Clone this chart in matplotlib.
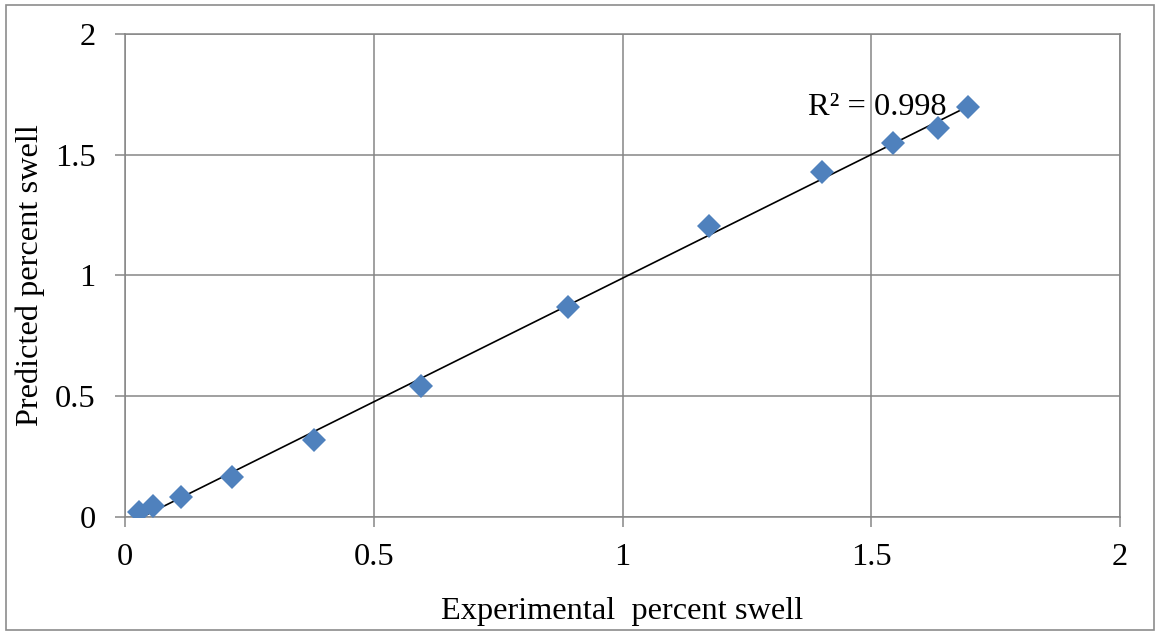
import numpy as np
import matplotlib
matplotlib.use("Agg")
import matplotlib.pyplot as plt
from matplotlib.patches import Rectangle

# Experimental vs predicted percent swell
experimental = [0.028, 0.056, 0.113, 0.215, 0.380, 0.595, 0.890, 1.174, 1.401, 1.544, 1.634, 1.694]
predicted = [0.019, 0.044, 0.081, 0.164, 0.317, 0.541, 0.868, 1.204, 1.428, 1.548, 1.610, 1.697]
ticks = [0, 0.5, 1, 1.5, 2]
tick_labels = ["0", "0.5", "1", "1.5", "2"]
r2_label = "R² = 0.998"

plt.rcParams["font.family"] = ["Liberation Serif", "DejaVu Serif"]
FS = 23.3

fig = plt.figure(figsize=(11.55, 6.32), dpi=100)
ax = fig.add_axes([125 / 1155, 1 - 516.5 / 632, 995 / 1155, 482.5 / 632])

grid_color = "#868686"
ax.set_xlim(0, 2)
ax.set_ylim(0, 2)
ax.set_xticks(ticks)
ax.set_xticklabels(tick_labels)
ax.set_yticks(ticks)
ax.set_yticklabels(tick_labels)
ax.grid(True, color=grid_color, linewidth=1.1)
ax.set_axisbelow(True)
for s in ax.spines.values():
    s.set_color(grid_color)
    s.set_linewidth(1.1)
ax.tick_params(axis="both", direction="out", length=7, width=1.1, color=grid_color,
               labelsize=FS, labelcolor="black")
ax.tick_params(axis="x", pad=12)
ax.tick_params(axis="y", pad=14)

# Linear trendline
x = np.array(experimental)
y = np.array(predicted)
slope, intercept = np.polyfit(x, y, 1)
xs = np.array([x.min(), x.max()])
ax.plot(xs, slope * xs + intercept, color="black", linewidth=1.2, zorder=3)

ax.plot(experimental, predicted, linestyle="none", marker="D", markersize=12.2,
        color="#4F81BD", markeredgewidth=0, zorder=4)

ax.text(1.373, 1.697, r2_label, fontsize=FS, ha="left", va="center", zorder=5)

ax.set_xlabel("Experimental  percent swell", fontsize=FS)
ax.set_ylabel("Predicted percent swell", fontsize=FS)
ax.xaxis.label.set_va("center")
ax.yaxis.label.set_va("center")
ax.xaxis.set_label_coords(0.5, (516.5 - 611) / 482.5)
ax.yaxis.set_label_coords((30 - 125) / 995, 0.5)

fig.patches.append(Rectangle((6 / 1155, 2 / 632), 1148 / 1155, 625 / 632,
                             transform=fig.transFigure, fill=False,
                             edgecolor="#8c8c8c", linewidth=1.2))

fig.savefig("out.png", dpi=100)
